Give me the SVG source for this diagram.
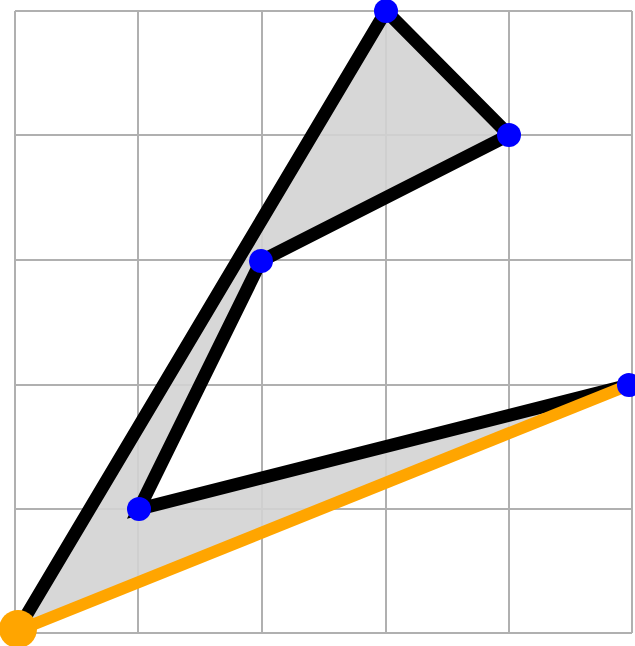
<svg xmlns="http://www.w3.org/2000/svg" width="635" height="646" viewBox="0 0 635 646">
<style>
.grid line{stroke:#b0b0b0;stroke-width:2}
.edge{stroke:#000;stroke-width:13;stroke-linecap:round;fill:none}
.pt{fill:#0000ff}
</style>
<rect width="635" height="646" fill="#fff"/>
<g class="grid">
<line x1="15" y1="11" x2="15" y2="633"/>
<line x1="138" y1="11" x2="138" y2="633"/>
<line x1="262" y1="11" x2="262" y2="633"/>
<line x1="386" y1="11" x2="386" y2="633"/>
<line x1="509" y1="11" x2="509" y2="633"/>
<line x1="632" y1="11" x2="632" y2="633"/>
<line x1="15" y1="11" x2="632" y2="11"/>
<line x1="15" y1="135" x2="632" y2="135"/>
<line x1="15" y1="260" x2="632" y2="260"/>
<line x1="15" y1="385" x2="632" y2="385"/>
<line x1="15" y1="509" x2="632" y2="509"/>
<line x1="15" y1="633" x2="632" y2="633"/>
</g>
<polygon points="17,631 386,11 509,135 261,261 139,509 629,385" fill="#d3d3d3" fill-opacity="0.9"/>
<g id="connectors">
<polyline class="edge" points="17,631 386,11 509,135 261,261 139,509 629,385"/>
<line x1="17" y1="631" x2="629" y2="385" stroke="#ffa500" stroke-width="12"/>
</g>
<g id="n0"><circle cx="18" cy="629" r="19" fill="#ffa500"/></g>
<g id="n1"><circle class="pt" cx="386" cy="11" r="12"/></g>
<g id="n2"><circle class="pt" cx="509" cy="135" r="12"/></g>
<g id="n3"><circle class="pt" cx="261" cy="261" r="12"/></g>
<g id="n4"><circle class="pt" cx="139" cy="509" r="12"/></g>
<g id="n5"><circle class="pt" cx="629" cy="385" r="12"/></g>
</svg>
